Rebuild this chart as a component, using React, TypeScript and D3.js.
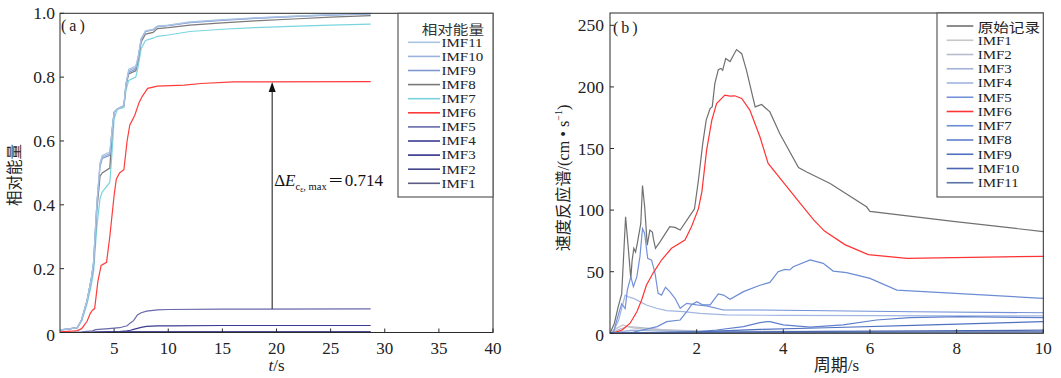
import React from 'react';
import * as d3 from 'd3';

// ---------- Panel (a): cumulative relative energy ----------
const tTop = [0, 0.5, 1.0, 1.6, 2.0, 2.5, 2.9, 3.1, 3.4, 3.7, 3.9, 4.6, 4.8, 5.0, 5.3, 5.9, 6.1, 6.35, 7.0, 7.2, 7.5, 7.9, 8.6, 9.0, 10, 12, 15, 18, 22, 25, 28.7];
const eIMF11 = [0.008, 0.010, 0.012, 0.015, 0.04, 0.10, 0.17, 0.22, 0.40, 0.53, 0.555, 0.565, 0.63, 0.69, 0.70, 0.71, 0.78, 0.825, 0.835, 0.86, 0.92, 0.945, 0.95, 0.96, 0.963, 0.973, 0.98, 0.986, 0.992, 0.996, 1.0];
const eIMF10 = [0.008, 0.010, 0.012, 0.015, 0.04, 0.10, 0.17, 0.22, 0.40, 0.53, 0.55, 0.56, 0.63, 0.69, 0.70, 0.71, 0.78, 0.82, 0.83, 0.86, 0.92, 0.944, 0.949, 0.959, 0.962, 0.972, 0.979, 0.985, 0.991, 0.995, 0.999];
const eIMF9 = [0.008, 0.010, 0.012, 0.015, 0.04, 0.10, 0.17, 0.22, 0.40, 0.52, 0.545, 0.555, 0.63, 0.69, 0.70, 0.71, 0.78, 0.815, 0.825, 0.855, 0.92, 0.943, 0.948, 0.958, 0.961, 0.971, 0.978, 0.984, 0.99, 0.994, 0.998];
const eIMF8 = [0.008, 0.010, 0.012, 0.015, 0.04, 0.10, 0.17, 0.21, 0.38, 0.49, 0.50, 0.515, 0.62, 0.69, 0.70, 0.71, 0.775, 0.81, 0.82, 0.85, 0.91, 0.935, 0.94, 0.952, 0.955, 0.963, 0.97, 0.976, 0.983, 0.988, 0.993];
const eIMF7 = [0.008, 0.010, 0.012, 0.015, 0.035, 0.09, 0.15, 0.19, 0.33, 0.42, 0.44, 0.47, 0.56, 0.67, 0.70, 0.705, 0.76, 0.79, 0.80, 0.83, 0.89, 0.915, 0.922, 0.928, 0.932, 0.943, 0.95, 0.955, 0.96, 0.963, 0.966];

const tRed = [0, 1.0, 1.6, 2.0, 2.5, 2.8, 3.0, 3.2, 3.5, 3.8, 4.3, 4.6, 5.0, 5.2, 5.5, 5.9, 6.2, 6.45, 6.9, 7.3, 7.6, 8.1, 9.0, 11.5, 13, 16, 28.7];
const eIMF6 = [0.002, 0.004, 0.006, 0.012, 0.035, 0.06, 0.07, 0.075, 0.16, 0.21, 0.22, 0.30, 0.43, 0.48, 0.50, 0.51, 0.60, 0.65, 0.68, 0.72, 0.74, 0.765, 0.772, 0.775, 0.78, 0.785, 0.786];

const tLow = [0, 2.0, 3.0, 3.3, 4.5, 5.5, 6.2, 6.5, 6.8, 7.15, 7.5, 8.0, 9.0, 10, 15, 28.7];
const eIMF5 = [0, 0.002, 0.005, 0.009, 0.012, 0.015, 0.021, 0.03, 0.037, 0.055, 0.062, 0.067, 0.071, 0.072, 0.073, 0.074];
const eIMF4 = [0, 0, 0.001, 0.001, 0.002, 0.003, 0.005, 0.007, 0.01, 0.013, 0.016, 0.019, 0.021, 0.021, 0.022, 0.022];
const eIMF3 = [0, 0, 0, 0.001, 0.001, 0.001, 0.002, 0.002, 0.002, 0.002, 0.002, 0.002, 0.002, 0.002, 0.002, 0.002];
const eIMF2 = [0, 0, 0, 0, 0.001, 0.001, 0.001, 0.001, 0.001, 0.001, 0.001, 0.001, 0.001, 0.001, 0.001, 0.001];
const eIMF1 = [0, 0, 0, 0, 0, 0, 0, 0, 0, 0, 0, 0, 0, 0, 0, 0];

const xTicksA = [5, 10, 15, 20, 25, 30, 35, 40];
const yTicksA = [0, 0.2, 0.4, 0.6, 0.8, 1.0];
const yTickLabelsA = ['0', '0.2', '0.4', '0.6', '0.8', '1.0'];
const arrowT = 19.6;
const arrowFrom = 0.074;
const arrowTo = 0.786;

// ---------- Panel (b): velocity response spectra ----------
const pOrig = [0, 0.1, 0.19, 0.27, 0.36, 0.42, 0.48, 0.51, 0.55, 0.59, 0.63, 0.71, 0.75, 0.80, 0.86, 0.92, 0.98, 1.0, 1.05, 1.15, 1.38, 1.5, 1.62, 1.88, 1.95, 2.04, 2.14, 2.22, 2.31, 2.36, 2.42, 2.50, 2.56, 2.60, 2.67, 2.77, 2.92, 3.04, 3.15, 3.35, 3.50, 3.69, 3.92, 4.35, 4.54, 5.08, 5.92, 6.0, 7.92, 10];
const vOrig = [0, 8, 21.6, 32, 94.6, 70, 44.6, 59, 69, 66, 73, 89, 120, 102.7, 71.6, 83.8, 82, 77, 69, 74, 86.5, 86, 83.8, 97.3, 101, 124, 154, 173, 182.5, 184, 202.8, 214, 215, 213.5, 223, 220.6, 230.3, 227, 213.5, 183.8, 185.7, 179.7, 162, 134.6, 131, 121.6, 102.7, 99, 90.8, 82.6];

const p6 = [0, 0.05, 0.28, 0.46, 0.62, 0.73, 0.84, 0.99, 1.19, 1.42, 1.73, 1.88, 2.04, 2.12, 2.23, 2.35, 2.46, 2.65, 2.77, 2.88, 3.04, 3.23, 3.46, 3.65, 4.08, 4.4, 4.7, 4.95, 5.42, 5.96, 6.85, 10];
const v6 = [0, 0, 2.7, 8, 17.5, 27, 39, 48.7, 59.5, 69, 75.7, 86.5, 101, 114.8, 148.7, 173, 186.5, 193.3, 192.5, 192.8, 190.6, 181, 159.5, 137.9, 119, 105, 92, 83, 72, 63.9, 60.8, 62.5];

const p7 = [0, 0.3, 0.54, 1.09, 1.31, 1.62, 1.77, 1.88, 2.0, 2.15, 2.31, 2.5, 2.62, 2.77, 3.08, 3.46, 3.69, 3.88, 4.04, 4.15, 4.23, 4.62, 4.92, 5.15, 5.46, 6.0, 6.62, 10];
const v7 = [0, 0.5, 1, 5.4, 9.5, 10.8, 17.5, 23, 25.7, 23, 23, 31.9, 31, 27.6, 33.8, 39, 41.3, 50, 51.9, 51.4, 54, 59.5, 56.8, 50.5, 49.2, 44.6, 35.1, 28.4];

const p5 = [0, 0.08, 0.2, 0.27, 0.35, 0.4, 0.48, 0.54, 0.62, 0.69, 0.75, 0.8, 0.87, 0.96, 1.04, 1.11, 1.19, 1.28, 1.38, 1.5, 1.62, 1.77, 2.0, 2.23, 2.62, 3.5, 4.5, 7, 10];
const v5 = [0, 1, 16, 24, 20, 35, 46, 37.8, 46, 62, 85, 81, 60.8, 59.4, 48.7, 32.4, 31, 37.3, 33.8, 28.4, 20.3, 24.3, 23, 22.2, 18.9, 18.9, 18.5, 17.5, 16.7];

const p4 = [0, 0.1, 0.2, 0.35, 0.42, 0.54, 0.69, 0.84, 1.07, 1.31, 1.69, 2.08, 2.69, 4, 6, 8, 10];
const v4 = [0, 3, 10.8, 31, 29.7, 28.4, 25.7, 23, 20.3, 18.4, 17.6, 16.2, 14.9, 14.5, 14.3, 14.2, 14.1];

const p8 = [0, 1, 2, 2.46, 3.08, 3.46, 3.62, 3.69, 4.0, 4.62, 5.38, 6.15, 6.92, 8.08, 10];
const v8 = [0, 0.5, 1.2, 2.7, 5.4, 8.6, 9.5, 9.5, 6.8, 5, 6.8, 10.8, 12.7, 13.5, 12.7];

const p9 = [0, 1, 2, 3.46, 5, 7, 10];
const v9 = [0, 0.5, 1.2, 3.2, 4.5, 6.5, 9.4];

const p10 = [0, 2, 5, 10];
const v10 = [0, 0.8, 1.5, 2.5];

const p11 = [0, 5, 10];
const v11 = [0, 0.8, 1.2];

const p1 = [0, 0.15, 0.3, 0.45, 0.6, 1.0, 1.5, 2, 3, 5, 10];
const v1 = [0, 4, 6.8, 5, 4, 3, 2, 1.5, 1, 0.8, 0.5];

const p2 = [0, 0.2, 0.4, 0.6, 0.9, 1.2, 2, 4, 10];
const v2 = [0, 3, 5.5, 5, 4, 3, 2, 1.5, 1];

const p3 = [0, 0.3, 0.5, 1.0, 2, 5, 10];
const v3 = [0, 1.5, 2.5, 2, 1.5, 1, 0.8];

const xTicksB = [2, 4, 6, 8, 10];
const yTicksB = [0, 50, 100, 150, 200, 250];

const namesA = ['IMF1', 'IMF2', 'IMF3', 'IMF4', 'IMF5', 'IMF6', 'IMF7', 'IMF8', 'IMF9', 'IMF10', 'IMF11'];
const namesB = ['原始记录', 'IMF1', 'IMF2', 'IMF3', 'IMF4', 'IMF5', 'IMF6', 'IMF7', 'IMF8', 'IMF9', 'IMF10', 'IMF11'];

const SERIF = '"Liberation Serif", "Times New Roman", "Noto Sans CJK SC", serif';
const CJK = '"Noto Sans CJK SC", "Liberation Serif", sans-serif';

const colorsA = ['#5a5a82', '#43438e', '#30308a', '#3b3b92', '#6868aa', '#ff3b3b', '#7ad4df', '#7a7a7a', '#8098d2', '#9ab3dc', '#a9c4e2'];
const colorsB = ['#707070', '#c6c6c6', '#b6bccd', '#a3b2d6', '#a2b6e2', '#7391d8', '#ff3333', '#6c8cd3', '#5f80cc', '#5070c0', '#4a66b3', '#5a74a8'];

function zip(xs: number[], ys: number[]): [number, number][] {
  return xs.map((x, i) => [x, ys[i]]);
}

const LEG_FS = 12.5;
const LEG_SX = 1.2;

export default function App() {
  const xA = d3.scaleLinear().domain([0, 40]).range([60, 493]);
  const yA = d3.scaleLinear().domain([0, 1]).range([332.5, 13.3]);
  const xB = d3.scaleLinear().domain([0, 10]).range([610, 1043.3]);
  const yB = d3.scaleLinear().domain([0, 260]).range([333.3, 13]);

  const lineA = d3.line<[number, number]>().x(d => xA(d[0])).y(d => yA(d[1]));
  const lineB = d3.line<[number, number]>().x(d => xB(d[0])).y(d => yB(d[1]));

  const seriesA = [
    zip(tLow, eIMF1), zip(tLow, eIMF2), zip(tLow, eIMF3), zip(tLow, eIMF4), zip(tLow, eIMF5),
    zip(tRed, eIMF6), zip(tTop, eIMF7), zip(tTop, eIMF8), zip(tTop, eIMF9), zip(tTop, eIMF10), zip(tTop, eIMF11),
  ];
  const seriesB = [
    zip(pOrig, vOrig), zip(p1, v1), zip(p2, v2), zip(p3, v3), zip(p4, v4), zip(p5, v5),
    zip(p6, v6), zip(p7, v7), zip(p8, v8), zip(p9, v9), zip(p10, v10), zip(p11, v11),
  ];

  const [ax0, ax1] = xA.range();
  const [ay0, ay1] = yA.range();
  const [bx0, bx1] = xB.range();
  const [by0, by1] = yB.range();

  const legendA = { x0: 398, x1: ax1, y0: ay1, y1: 197 };
  const legendB = { x0: 937, x1: bx1, y0: by1, y1: 197 };

  const ax = xA(arrowT);
  const arrowTipY = yA(arrowTo) + 0.5;

  return (
    <svg width={1061} height={378} style={{ position: 'absolute', left: 0, top: 0, background: '#fff' }}>
      <rect x={0} y={0} width={1061} height={378} fill="#fff" />
      {/* ===== Panel A ===== */}
      <g>
        {seriesA.map((s, i) => (
          <path key={i} d={lineA(s) || ''} fill="none" stroke={colorsA[i]} strokeWidth={1.2} />
        ))}
        {/* arrow */}
        <line x1={ax} x2={ax} y1={yA(arrowFrom)} y2={arrowTipY + 8} stroke="#111" strokeWidth={1} />
        <path d={`M${ax},${arrowTipY} L${ax - 3.5},${arrowTipY + 10} L${ax + 3.5},${arrowTipY + 10} Z`} fill="#111" />
        <text x={ax + 2} y={186} fontFamily={SERIF} fontSize={17} fill="#111">
          <tspan>Δ</tspan>
          <tspan fontStyle="italic">E</tspan>
          <tspan fontSize={10.5} dy={4}>c</tspan>
          <tspan fontSize={7.5} dy={2}>ε</tspan>
          <tspan fontSize={10.5} dy={-2}>, max</tspan>
          <tspan fontSize={16} dy={-4} dx={1} fontFamily={CJK}>＝</tspan>
          <tspan fontSize={17} dx={1}>0.714</tspan>
        </text>
        {/* frame */}
        <rect x={ax0} y={ay1} width={ax1 - ax0} height={ay0 - ay1} fill="none" stroke="#2a2a2a" strokeWidth={1} />
        {xTicksA.map(t => (
          <g key={t}>
            <line x1={xA(t)} x2={xA(t)} y1={ay0} y2={ay0 - 4} stroke="#2a2a2a" />
            <text x={xA(t)} y={353.5} textAnchor="middle" fontFamily={SERIF} fontSize={17} fill="#222">{t}</text>
          </g>
        ))}
        {yTicksA.map((t, i) => (
          <g key={t}>
            <line x1={ax0} x2={ax0 + 4} y1={yA(t)} y2={yA(t)} stroke="#2a2a2a" />
            <text x={ax0 - 5} y={yA(t) + (t === 0 ? 8 : 6)} textAnchor="end" fontFamily={SERIF} fontSize={17.5} fill="#222">{yTickLabelsA[i]}</text>
          </g>
        ))}
        <text x={61} y={31} fontFamily={SERIF} fontSize={16} letterSpacing={3} fill="#222">(a)</text>
        <text x={(ax0 + ax1) / 2} y={371} textAnchor="middle" fontFamily={SERIF} fontSize={17} fill="#222">
          <tspan fontStyle="italic">t</tspan>/s
        </text>
        <text transform={`translate(12.5,${(ay0 + ay1) / 2 + 2}) rotate(-90)`} textAnchor="middle" dominantBaseline="central" fontFamily={CJK} fontSize={15.5} fill="#222">相对能量</text>
        {/* legend */}
        <rect x={legendA.x0} y={legendA.y0} width={legendA.x1 - legendA.x0} height={legendA.y1 - legendA.y0} fill="#fff" stroke="#5a5a5a" strokeWidth={1.2} />
        <text transform={`translate(484,28.3) scale(${LEG_SX},1)`} textAnchor="end" dominantBaseline="central" fontFamily={CJK} fontSize={LEG_FS + 0.5} fill="#333">相对能量</text>
        {namesA.slice().reverse().map((n, k) => {
          const idx = namesA.length - 1 - k;
          const cy = 42.3 + k * 14.1;
          return (
            <g key={n}>
              <line x1={408} x2={440} y1={cy} y2={cy} stroke={colorsA[idx]} strokeWidth={1.6} />
              <text transform={`translate(441.5,${cy + 4.3}) scale(${LEG_SX},1)`} fontFamily={SERIF} fontSize={LEG_FS} fill="#222">{n}</text>
            </g>
          );
        })}
      </g>

      {/* ===== Panel B ===== */}
      <g>
        {seriesB.map((s, i) => (
          <path key={i} d={lineB(s) || ''} fill="none" stroke={colorsB[i]} strokeWidth={1.2} />
        ))}
        <rect x={bx0} y={by1} width={bx1 - bx0} height={by0 - by1} fill="none" stroke="#2a2a2a" strokeWidth={1} />
        {xTicksB.map(t => (
          <g key={t}>
            <line x1={xB(t)} x2={xB(t)} y1={by0} y2={by0 - 4} stroke="#2a2a2a" />
            <text x={xB(t)} y={353.5} textAnchor="middle" fontFamily={SERIF} fontSize={17} fill="#222">{t}</text>
          </g>
        ))}
        {yTicksB.map(t => (
          <g key={t}>
            <line x1={bx0} x2={bx0 + 4} y1={yB(t)} y2={yB(t)} stroke="#2a2a2a" />
            <text x={bx0 - 6} y={yB(t) + (t === 0 ? 8 : 6)} textAnchor="end" fontFamily={SERIF} fontSize={17.5} fill="#222">{t}</text>
          </g>
        ))}
        <text x={613} y={33} fontFamily={SERIF} fontSize={16} letterSpacing={3} fill="#222">(b)</text>
        <text x={836.5} y={371} textAnchor="middle" fontFamily={SERIF} fontSize={17} fill="#222">周期/s</text>
        <text transform={`translate(564,178) rotate(-90)`} textAnchor="middle" dominantBaseline="central" fontFamily={SERIF} fontSize={16.2} fill="#222">
          速度反应谱/(cm • s<tspan fontSize={10} dy={-6}>−1</tspan><tspan dy={6}>)</tspan>
        </text>
        {/* legend */}
        <rect x={legendB.x0} y={legendB.y0} width={legendB.x1 - legendB.x0} height={legendB.y1 - legendB.y0} fill="#fff" stroke="#5a5a5a" strokeWidth={1.2} />
        {namesB.map((n, i) => {
          const cy = 26 + i * 14.25;
          return (
            <g key={n}>
              <line x1={946.7} x2={973.3} y1={cy} y2={cy} stroke={colorsB[i]} strokeWidth={1.6} />
              {i === 0 ? (
                <text transform={`translate(977.7,${cy}) scale(${LEG_SX},1)`} dominantBaseline="central" fontFamily={CJK} fontSize={LEG_FS + 0.5} fill="#222">{n}</text>
              ) : (
                <text transform={`translate(977.7,${cy + 4.3}) scale(${LEG_SX},1)`} fontFamily={SERIF} fontSize={LEG_FS} fill="#222">{n}</text>
              )}
            </g>
          );
        })}
      </g>
    </svg>
  );
}
